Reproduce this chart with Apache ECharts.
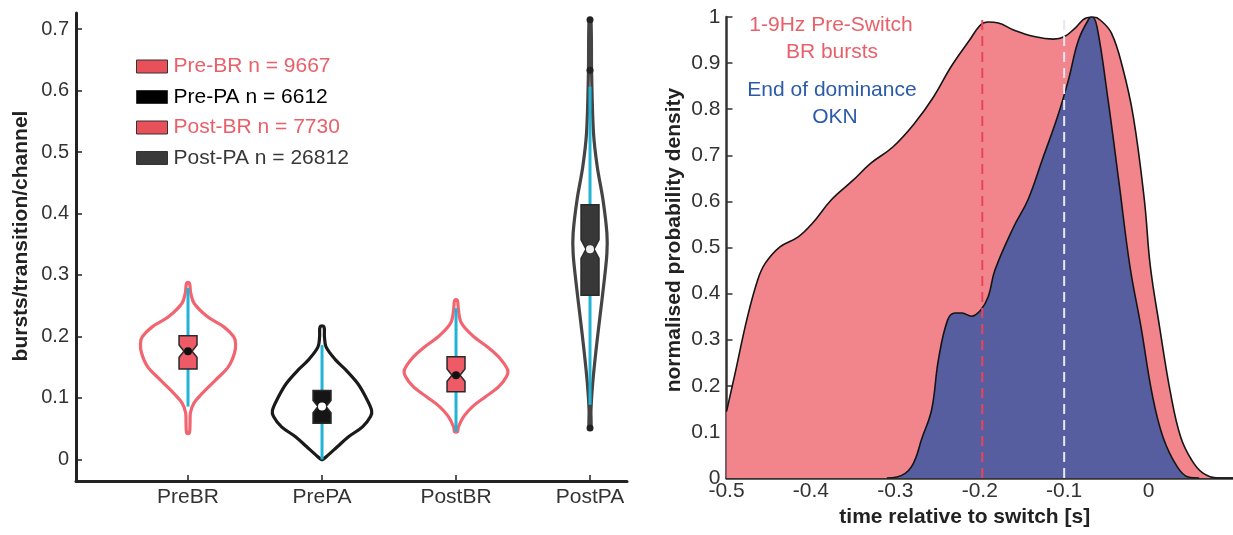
<!DOCTYPE html>
<html>
<head>
<meta charset="utf-8">
<script src="https://cdn.jsdelivr.net/npm/echarts@6/dist/echarts.min.js"></script>
<style>
  html, body { margin: 0; padding: 0; background: #fff; }
  #main { width: 1233px; height: 535px; }
</style>
</head>
<body>
<div id="main"></div>
<script>
// ---- left panel: violins ----
const categories = ['PreBR', 'PrePA', 'PostBR', 'PostPA'];
const legendNames = ['Pre-BR n = 9667', 'Pre-PA n = 6612', 'Post-BR n = 7730', 'Post-PA n = 26812'];
const leftTicks = [0, 0.1, 0.2, 0.3, 0.4, 0.5, 0.6, 0.7];

// violin outline: value + half width (in category units)
const preBRVals = [0.287, 0.271, 0.254, 0.232, 0.216, 0.200, 0.189, 0.173, 0.151, 0.129, 0.108, 0.092, 0.076, 0.060, 0.043];
const preBRDens = [0.010, 0.020, 0.045, 0.146, 0.265, 0.340, 0.355, 0.347, 0.302, 0.205, 0.108, 0.045, 0.018, 0.015, 0.010];
const prePAVals = [0.216, 0.200, 0.183, 0.162, 0.146, 0.124, 0.102, 0.080, 0.070, 0.053, 0.037, 0.021, 0.007, 0.000];
const prePADens = [0.014, 0.018, 0.030, 0.101, 0.176, 0.265, 0.325, 0.370, 0.362, 0.302, 0.198, 0.116, 0.045, 0.006];
const postBRVals = [0.259, 0.243, 0.222, 0.200, 0.183, 0.167, 0.146, 0.135, 0.118, 0.102, 0.086, 0.070, 0.053, 0.045];
const postBRDens = [0.010, 0.018, 0.040, 0.131, 0.235, 0.317, 0.385, 0.377, 0.317, 0.220, 0.123, 0.058, 0.018, 0.010];
const postPAVals = [0.715, 0.628, 0.531, 0.476, 0.422, 0.368, 0.335, 0.287, 0.232, 0.178, 0.124, 0.080, 0.051];
const postPADens = [0.007, 0.012, 0.026, 0.054, 0.097, 0.126, 0.126, 0.104, 0.074, 0.045, 0.020, 0.007, 0.007];

// box stats: [whiskerLow, q1, median, q3, whiskerHigh]
const preBRBox = [0.086, 0.147, 0.176, 0.201, 0.279];
const prePABox = [0.000, 0.059, 0.086, 0.112, 0.186];
const postBRBox = [0.045, 0.110, 0.137, 0.167, 0.246];
const postPABox = [0.089, 0.267, 0.342, 0.414, 0.606];
const notchHalf = [0.010, 0.010, 0.010, 0.015];
const preBROut = [];
const prePAOut = [];
const postBROut = [];
const postPAOut = [0.715, 0.633, 0.051];

// ---- right panel: densities ----
const rightXTicks = [-0.5, -0.4, -0.3, -0.2, -0.1, 0];
const rightYTicks = [0, 0.1, 0.2, 0.3, 0.4, 0.5, 0.6, 0.7, 0.8, 0.9, 1];
const brT = [-0.5, -0.489, -0.476, -0.463, -0.454, -0.437, -0.415, -0.398, -0.376, -0.35, -0.329, -0.303, -0.277, -0.255, -0.234, -0.212, -0.199, -0.19, -0.178, -0.16, -0.134, -0.113, -0.1, -0.087, -0.074, -0.065, -0.057, -0.044, -0.031, -0.018, -0.005, 0.002, 0.013, 0.026, 0.038, 0.051, 0.064, 0.082, 0.1];
const brV = [0.144, 0.234, 0.343, 0.43, 0.466, 0.501, 0.523, 0.553, 0.603, 0.646, 0.683, 0.718, 0.77, 0.826, 0.892, 0.95, 0.983, 0.989, 0.987, 0.972, 0.957, 0.952, 0.957, 0.976, 0.998, 1.0, 0.993, 0.965, 0.892, 0.783, 0.603, 0.46, 0.328, 0.184, 0.089, 0.039, 0.011, 0.0, 0.0];
const oknT = [-0.31, -0.298, -0.281, -0.268, -0.257, -0.249, -0.238, -0.229, -0.221, -0.21, -0.199, -0.19, -0.182, -0.16, -0.143, -0.126, -0.108, -0.095, -0.083, -0.07, -0.067, -0.061, -0.048, -0.035, -0.022, -0.009, 0.004, 0.017, 0.034, 0.047, 0.06];
const oknV = [0, 0.002, 0.024, 0.089, 0.148, 0.256, 0.343, 0.358, 0.358, 0.351, 0.364, 0.393, 0.451, 0.544, 0.603, 0.69, 0.783, 0.863, 0.95, 0.998, 1.0, 0.978, 0.82, 0.64, 0.458, 0.328, 0.184, 0.089, 0.024, 0.002, 0];
const brMedian = -0.197;
const oknMedian = -0.1;

const violins = [
    { vals: preBRVals, dens: preBRDens, box: preBRBox, out: preBROut,
      line: '#F2646F', fill: '#EE5A66', med: '#111' },
    { vals: prePAVals, dens: prePADens, box: prePABox, out: prePAOut,
      line: '#1a1a1a', fill: '#151515', med: '#fff' },
    { vals: postBRVals, dens: postBRDens, box: postBRBox, out: postBROut,
      line: '#F2646F', fill: '#EE5A66', med: '#111' },
    { vals: postPAVals, dens: postPADens, box: postPABox, out: postPAOut,
      line: '#444', fill: '#383838', med: '#eee' }
];
const legendFill = ['#E8505A', '#000', '#E8505A', '#3a3a3a'];
const legendText = ['#E8606A', '#000', '#E8606A', '#383838'];

const BOX_W = 0.067;
const NOTCH_W = 0.03;

function violinRenderer(k) {
    const vl = violins[k];
    return function (params, api) {
        const cx = api.value(0);
        const right = vl.vals.map((v, i) => api.coord([cx + vl.dens[i], v]));
        const left = vl.vals.map((v, i) => api.coord([cx - vl.dens[i], v])).reverse();
        const b = vl.box, nh = notchHalf[k];
        const boxPts = [
            [cx - BOX_W, b[3]], [cx + BOX_W, b[3]], [cx + BOX_W, b[2] + nh], [cx + NOTCH_W, b[2]],
            [cx + BOX_W, b[2] - nh], [cx + BOX_W, b[1]], [cx - BOX_W, b[1]], [cx - BOX_W, b[2] - nh],
            [cx - NOTCH_W, b[2]], [cx - BOX_W, b[2] + nh]
        ].map(p => api.coord(p));
        const wLo = api.coord([cx, b[0]]), wHi = api.coord([cx, b[4]]);
        const medP = api.coord([cx, b[2]]);
        const children = [
            { type: 'polygon', shape: { points: right.concat(left), smooth: 0.35 },
              style: { fill: 'none', stroke: vl.line, lineWidth: 3.2 } },
            { type: 'line', shape: { x1: wLo[0], y1: wLo[1], x2: wHi[0], y2: wHi[1] },
              style: { stroke: '#22B4D6', lineWidth: 3 } },
            { type: 'polygon', shape: { points: boxPts },
              style: { fill: vl.fill, stroke: '#2a2a2a', lineWidth: 1.5 } },
            { type: 'circle', shape: { cx: medP[0], cy: medP[1], r: 4 },
              style: { fill: vl.med } }
        ];
        vl.out.forEach(o => {
            const p = api.coord([cx, o]);
            children.push({ type: 'circle', shape: { cx: p[0], cy: p[1], r: 3.5 }, style: { fill: '#222' } });
        });
        return { type: 'group', children: children };
    };
}

const font = "'Liberation Sans', Arial, sans-serif";
const chart = echarts.init(document.getElementById('main'));

const series = violins.map((vl, k) => ({
    type: 'custom',
    name: legendNames[k],
    xAxisIndex: 0,
    yAxisIndex: 0,
    itemStyle: { color: legendFill[k] },
    data: [[k + 1, vl.box[2]]],
    renderItem: violinRenderer(k),
    silent: true
}));

series.push({
    type: 'line', name: 'BR', xAxisIndex: 1, yAxisIndex: 1,
    data: brT.map((t, i) => [t, brV[i]]),
    showSymbol: false, smooth: 0.4, z: 2,
    lineStyle: { color: '#151515', width: 1.6 },
    areaStyle: { color: '#F2858B', opacity: 1 }
});
series.push({
    type: 'line', name: 'OKN', xAxisIndex: 1, yAxisIndex: 1,
    data: oknT.map((t, i) => [t, oknV[i]]),
    showSymbol: false, smooth: 0.4, z: 3,
    lineStyle: { color: '#151515', width: 1.6 },
    areaStyle: { color: '#565EA0', opacity: 1 }
});
series.push({
    type: 'line', name: 'BRmed', xAxisIndex: 1, yAxisIndex: 1,
    data: [[brMedian, 0], [brMedian, 1]], showSymbol: false, z: 4,
    lineStyle: { color: '#E8455A', width: 2, type: [10, 6] }
});
series.push({
    type: 'line', name: 'OKNmed', xAxisIndex: 1, yAxisIndex: 1,
    data: [[oknMedian, 0], [oknMedian, 1]], showSymbol: false, z: 4,
    lineStyle: { color: '#E6E6F5', width: 2, type: [10, 6] }
});

const fmt = v => (v === 0 ? '0' : v === 1 ? '1' : v.toFixed(1));

chart.setOption({
    animation: false,
    textStyle: { fontFamily: font },
    grid: [
        { left: 76, top: 13, width: 551, height: 468 },
        { left: 726.5, top: 17, width: 508.5, height: 461 }
    ],
    legend: {
        orient: 'vertical', left: 131, top: 51,
        itemWidth: 31, itemHeight: 13, itemGap: 9.5,
        selectedMode: false,
        textStyle: { fontSize: 21, padding: [0, 0, 0, 1] },
        data: legendNames.map((n, k) => ({
            name: n, icon: 'rect',
            itemStyle: { color: legendFill[k], borderColor: '#333', borderWidth: 1 },
            textStyle: { color: legendText[k] }
        }))
    },
    xAxis: [
        {
            gridIndex: 0, type: 'value', min: 0.164, max: 4.276,
            axisLine: { show: true, onZero: false, lineStyle: { color: '#222', width: 3 } },
            axisTick: { inside: true, length: 6, customValues: [1, 2, 3, 4], lineStyle: { color: '#222', width: 1.5 } },
            axisLabel: { customValues: [1, 2, 3, 4], formatter: v => categories[Math.round(v) - 1], fontSize: 21, color: '#333', margin: 6 },
            splitLine: { show: false }
        },
        {
            gridIndex: 1, type: 'value', min: -0.5, max: 0.1,
            axisLine: { show: true, onZero: false, lineStyle: { color: '#333', width: 2.5 } },
            axisTick: { inside: true, length: 6, customValues: rightXTicks, lineStyle: { color: '#333', width: 1.5 } },
            axisLabel: { customValues: rightXTicks, formatter: fmt, fontSize: 21, color: '#333', margin: 3 },
            splitLine: { show: false },
            name: 'time relative to switch [s]', nameLocation: 'middle', nameGap: 28,
            nameTextStyle: { fontWeight: 'bold', fontSize: 21, color: '#222', padding: [0, 30, 0, 0] }
        }
    ],
    yAxis: [
        {
            gridIndex: 0, type: 'value', min: -0.035, max: 0.726,
            axisLine: { show: true, onZero: false, lineStyle: { color: '#222', width: 3 } },
            axisTick: { show: true, inside: true, length: 6, customValues: leftTicks, lineStyle: { color: '#222', width: 1.5 } },
            axisLabel: { customValues: leftTicks, formatter: fmt, fontSize: 20, color: '#333', margin: 7 },
            splitLine: { show: false },
            name: 'bursts/transition/channel', nameLocation: 'middle', nameGap: 44, nameRotate: 90,
            nameTextStyle: { fontWeight: 'bold', fontSize: 21, color: '#222', padding: [0, 0, 0, 22] }
        },
        {
            gridIndex: 1, type: 'value', min: 0, max: 1,
            axisLine: { show: true, onZero: false, lineStyle: { color: '#333', width: 2.5 } },
            axisTick: { show: true, inside: true, length: 6, customValues: rightYTicks, lineStyle: { color: '#333', width: 1.5 } },
            axisLabel: { customValues: rightYTicks, formatter: fmt, fontSize: 21, color: '#333', margin: 6 },
            splitLine: { show: false },
            name: 'normalised probability density', nameLocation: 'middle', nameGap: 42, nameRotate: 90,
            nameTextStyle: { fontWeight: 'bold', fontSize: 21, color: '#222', padding: [0, 0, 0, 15] }
        }
    ],
    graphic: [
        { type: 'text', x: 831, y: 25, z: 10, style: { text: '1-9Hz Pre-Switch', fill: '#E8606A', font: '21px ' + font, align: 'center', verticalAlign: 'middle' } },
        { type: 'text', x: 832, y: 52, z: 10, style: { text: 'BR bursts', fill: '#E8606A', font: '21px ' + font, align: 'center', verticalAlign: 'middle' } },
        { type: 'text', x: 832, y: 90, z: 10, style: { text: 'End of dominance', fill: '#2B5BA8', font: '21px ' + font, align: 'center', verticalAlign: 'middle' } },
        { type: 'text', x: 835, y: 117, z: 10, style: { text: 'OKN', fill: '#2B5BA8', font: '21px ' + font, align: 'center', verticalAlign: 'middle' } }
    ],
    series: series
});
</script>
</body>
</html>
